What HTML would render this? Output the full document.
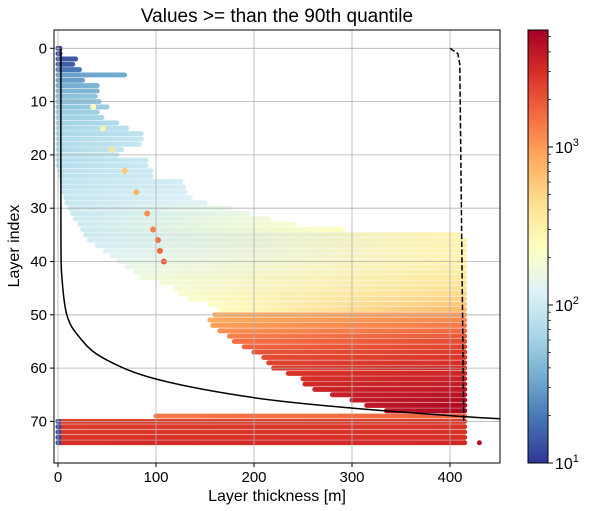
<!DOCTYPE html>
<html><head><meta charset="utf-8"><style>
body{margin:0;background:#fff;}
svg{display:block;font-family:"Liberation Sans","DejaVu Sans",sans-serif;}
</style></head><body>
<svg id="chart" width="592" height="511" viewBox="0 0 592 511" xmlns="http://www.w3.org/2000/svg">
<defs id="defs"></defs>
<text x="277" y="22" font-size="19" text-anchor="middle">Values &gt;= than the 90th quantile</text>
<text x="277" y="501" font-size="16" text-anchor="middle">Layer thickness [m]</text>
<text transform="translate(19,246) rotate(-90)" font-size="16" text-anchor="middle">Layer index</text>
<g id="data"></g>
<g id="grid"></g>
<g id="lines"></g>
<g id="axes"></g>
<g id="cbar"></g>
</svg>
<script>
// layer rows: index, min thickness, max thickness, value at left, value at right
const layers = [0,1,2,3,4,5,6,7,8,9,10,11,12,13,14,15,16,17,18,19,20,21,22,23,24,25,26,27,28,29,30,31,32,33,34,35,36,37,38,39,40,41,42,43,44,45,46,47,48,49,50,51,52,53,54,55,56,57,58,59,60,61,62,63,64,65,66,67,68,69,70,71,72,73,74];
const minThick = [0,0,0,0,0,0,0,0,0,0,0,0,0,0,0,0,0,0,0,0,0,0,0,2,3,4,5,6,8,9,12,15,18,22,25,28,32,40,48,55,62,70,80,85,105,120,125,135,155,165,160,155,158,165,175,180,190,200,210,215,220,235,250,252,262,280,300,315,335,100,0,0,0,0,0];
const maxThick = [2,2,18,15,22,68,25,40,40,38,42,50,40,45,60,70,85,85,83,65,60,90,90,95,95,125,128,130,135,150,175,195,215,240,290,410,415,415,415,415,415,415,415,415,415,415,415,415,415,415,415,415,415,415,415,415,415,415,415,415,415,415,415,415,415,415,415,415,415,415,415,415,415,415,415];
const valLeft = [10,12,14,15,20,30,30,35,40,45,45,50,55,60,60,65,65,70,70,70,75,75,75,80,80,85,85,90,90,90,95,95,100,100,100,100,105,110,120,130,140,150,160,170,180,190,200,210,220,230,800,850,950,1100,1300,1500,1700,2000,2200,2400,2600,2800,3000,3200,3400,3600,3800,4000,4200,1400,2400,2600,2700,2800,3000];
const valRight = [10,12,14,15,20,35,30,40,40,50,50,55,60,65,70,80,85,90,90,90,90,95,95,100,100,110,110,115,120,130,150,160,180,200,230,300,300,300,300,300,300,320,340,360,380,420,470,520,600,700,1000,1200,1400,1600,1900,2200,2400,2600,2800,3000,3200,3400,3600,3800,4000,4300,4600,4800,5000,1700,2600,2800,2900,3000,3200];
// high-value trace points
const traceLayer = [11,15,19,23,27,31,34,36,38,40];
const traceThick = [36,46,55,68,80,91,97,102,104,108];
const traceVal = [260,300,400,600,800,1100,1300,1500,1700,1800];
// low-value thin layers at bottom
const thinLayer = [70,71,72,73,74];
const thinVal = [12,12,12,12,12];
// reference curves
const solidX = [3,3,4,9,21,45,99,198,300,415,451];
const solidY = [0,35,43,50,54,58,62,65.5,67.5,69.1,69.5];
const dashX = [400,408,410,414];
const dashY = [0,1,3,70];
const xTicks = [0,100,200,300,400];
const yTicks = [0,10,20,30,40,50,60,70];

const NS="http://www.w3.org/2000/svg";
const L=54,R=500,T=30,B=463;
const X=v=>58+v*0.98, Y=v=>48.3+v*5.33;
const VMIN=10,VMAX=5500;
const stops=["#313695","#4575b4","#74add1","#abd9e9","#e0f3f8","#ffffbf","#fee090","#fdae61","#f46d43","#d73027","#a50026"];
function hex(h){return [1,3,5].map(i=>parseInt(h.substr(i,2),16));}
function cmap(v){let t=Math.log(v/VMIN)/Math.log(VMAX/VMIN);t=Math.max(0,Math.min(1,t));
 const p=t*10,i=Math.min(9,Math.floor(p)),f=p-i;const a=hex(stops[i]),b=hex(stops[i+1]);
 return "rgb("+a.map((c,k)=>Math.round(c+(b[k]-c)*f)).join(",")+")";}
function mk(tag,at,parent){const e=document.createElementNS(NS,tag);for(const k in at)e.setAttribute(k,at[k]);parent.appendChild(e);return e;}
const defs=document.getElementById('defs');
mk('clipPath',{id:'clip'},defs);
mk('rect',{x:L,y:T,width:R-L,height:B-T},document.getElementById('clip'));
const data=document.getElementById('data');data.setAttribute('clip-path','url(#clip)');
layers.forEach((ly,i)=>{
 const g=mk('linearGradient',{id:'g'+i,x1:0,x2:1,y1:0,y2:0},defs);
 mk('stop',{offset:0,'stop-color':cmap(valLeft[i])},g);
 mk('stop',{offset:1,'stop-color':cmap(valRight[i])},g);
 const x0=X(minThick[i])-2.5,x1=X(maxThick[i])+2.5;
 const r=mk('rect',{x:x0,y:Y(ly)-2.45,width:x1-x0,height:4.9,rx:2.4,fill:'url(#g'+i+')'},data);
 
 
});
thinLayer.forEach((ly,i)=>{
 const r=mk('rect',{x:X(0)-2.5,y:Y(ly)-2.45,width:6,height:4.9,rx:2.4,fill:cmap(thinVal[i])},data);
 
 
});
traceLayer.forEach((ly,i)=>{
 const c=mk('circle',{cx:X(traceThick[i]),cy:Y(ly),r:3,fill:cmap(traceVal[i])},data);
 
 
});
const outlier=mk('circle',{cx:X(430),cy:Y(74),r:2.5,fill:cmap(4500)},data);


const grid=document.getElementById('grid');
xTicks.forEach(t=>mk('line',{x1:X(t),x2:X(t),y1:T,y2:B,stroke:'#b0b0b0','stroke-width':0.8},grid));
yTicks.forEach(t=>mk('line',{x1:L,x2:R,y1:Y(t),y2:Y(t),stroke:'#b0b0b0','stroke-width':0.8},grid));
const lines=document.getElementById('lines');lines.setAttribute('clip-path','url(#clip)');
function smooth(xs,ys){let d="M"+X(xs[0])+","+Y(ys[0]);for(let i=0;i<xs.length-1;i++){
 const p0=[X(xs[Math.max(0,i-1)]),Y(ys[Math.max(0,i-1)])],p1=[X(xs[i]),Y(ys[i])],p2=[X(xs[i+1]),Y(ys[i+1])],p3=[X(xs[Math.min(xs.length-1,i+2)]),Y(ys[Math.min(xs.length-1,i+2)])];
 const c1=[p1[0]+(p2[0]-p0[0])/6,p1[1]+(p2[1]-p0[1])/6],c2=[p2[0]-(p3[0]-p1[0])/6,p2[1]-(p3[1]-p1[1])/6];
 d+=" C"+c1+" "+c2+" "+p2;}return d;}
const sl=mk('path',{d:smooth(solidX,solidY),fill:'none',stroke:'#000','stroke-width':1.5},lines);


const dl=mk('polyline',{points:dashX.map((x,i)=>X(x)+","+Y(dashY[i])).join(" "),fill:'none',stroke:'#000','stroke-width':1.5,'stroke-dasharray':'5.5,2.4'},lines);


const ax=document.getElementById('axes');
mk('rect',{x:L,y:T,width:R-L,height:B-T,fill:'none',stroke:'#000','stroke-width':1},ax);
xTicks.forEach(t=>{mk('line',{x1:X(t),x2:X(t),y1:B,y2:B+4,stroke:'#000'},ax);
 const tx=mk('text',{x:X(t),y:B+19,'font-size':15,'text-anchor':'middle'},ax);tx.textContent=t;
 
 });
yTicks.forEach(t=>{mk('line',{x1:L-4,x2:L,y1:Y(t),y2:Y(t),stroke:'#000'},ax);
 const tx=mk('text',{x:L-7,y:Y(t)+5,'font-size':15,'text-anchor':'end'},ax);tx.textContent=t;
 
 });
// colorbar
const cb=document.getElementById('cbar');const CL=528,CR=548;
const cg=mk('linearGradient',{id:'cbg',x1:0,x2:0,y1:1,y2:0},defs);
for(let i=0;i<=20;i++){mk('stop',{offset:i/20,'stop-color':cmap(VMIN*Math.pow(VMAX/VMIN,i/20))},cg);}
mk('rect',{x:CL,y:T,width:CR-CL,height:B-T,fill:'url(#cbg)',stroke:'#000','stroke-width':1},cb);
const CY=v=>B-(B-T)*Math.log(v/VMIN)/Math.log(VMAX/VMIN);
[1,2,3].forEach(e=>{const y=CY(Math.pow(10,e));mk('line',{x1:CR,x2:CR+5,y1:y,y2:y,stroke:'#000'},cb);
 const tx=mk('text',{x:CR+7,y:y+6,'font-size':16},cb);tx.textContent='10';
 
 
 const sp=mk('tspan',{dy:-7,'font-size':11},tx);sp.textContent=e;});
for(let e=1;e<=3;e++)for(let m=2;m<=9;m++){const v=m*Math.pow(10,e);if(v>VMAX)continue;const y=CY(v);mk('line',{x1:CR,x2:CR+3,y1:y,y2:y,stroke:'#000','stroke-width':0.7},cb);}
</script>
</body></html>
